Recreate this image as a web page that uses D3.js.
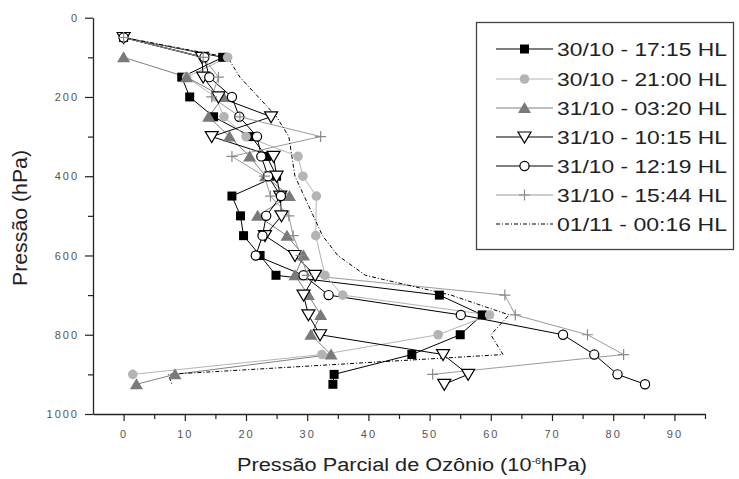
<!DOCTYPE html>
<html><head><meta charset="utf-8">
<script src="https://cdn.jsdelivr.net/npm/d3@7"></script>
<style>body{margin:0;background:#fff}svg{display:block}</style></head>
<body><svg id="c" width="739" height="479"></svg>
<script>
// Pressure levels (hPa)
const levels=[50,100,150,200,250,300,350,400,450,500,550,600,650,700,750,800,850,900,925];
// Ozone partial pressure (10^-6 hPa) per sounding, null = no point
const s1715=[0,16.2,9.5,10.8,14.7,20.8,23.4,25,17.7,19.1,19.6,22.3,24.9,51.6,58.6,55,47.1,34.4,34.2];
const s2100=[0,17,10.3,15,16.4,20,28.5,29.3,31.5,null,31.4,null,32.9,35.8,59.8,51.4,32.4,1.5,null];
const s0320=[null,0,10.3,16.3,13.9,17.3,20.6,23.2,27.1,21.9,26.7,29.4,28,30.2,32.2,30.6,33.9,8.4,2.1];
const s1015=[0,12.8,13,15.5,24.1,14.4,24.5,25,25.6,25.8,23.1,28,31.3,29.4,30.2,32.1,52.2,56.3,52.4];
const s1219=[0,13.2,14,17.7,18.9,21.8,22.5,23.6,25.7,23.3,22.7,21.6,29.4,33.5,55.1,71.8,76.9,80.7,85.2];
const s1544=[0,13,15.5,14.4,19,32.2,17.7,23,24,27,27.7,29,30,62.3,64,75.8,81.7,50.5,null];
const s0016=[0,17,19,22,25,27,27.5,28,29.5,31,32.5,35,39.5,53.5,63,60,62,7.3,7.9];
const seriesNames=["30/10 - 17:15 HL","30/10 - 21:00 HL","31/10 - 03:20 HL","31/10 - 10:15 HL","31/10 - 12:19 HL","31/10 - 15:44 HL","01/11 - 00:16 HL"];
const seriesValues=[s1715,s2100,s0320,s1015,s1219,s1544,s0016];
const xTicks=[0,10,20,30,40,50,60,70,80,90];
const yTicks=[0,200,400,600,800,1000];

const styles=[
  {line:"#000",marker:"square",fill:"#000",stroke:"#000"},
  {line:"#b4b4b4",marker:"circle",fill:"#b4b4b4",stroke:"#b4b4b4"},
  {line:"#808080",marker:"triUp",fill:"#7a7a7a",stroke:"#7a7a7a"},
  {line:"#000",marker:"triDown",fill:"#fff",stroke:"#000"},
  {line:"#000",marker:"circleOpen",fill:"#fff",stroke:"#000"},
  {line:"#9a9a9a",marker:"plus",fill:"none",stroke:"#8a8a8a"},
  {line:"#000",marker:"none",dash:"4,2,1,2"}
];

const svg=d3.select("#c");
const x=d3.scaleLinear().domain([-5,95]).range([93,705]);
const y=d3.scaleLinear().domain([0,1000]).range([17.7,414]);
const FONT="'Liberation Sans', Arial, sans-serif";

// axes
const xAxis=svg.append("g").attr("transform",`translate(0,${y(1000)})`)
  .call(d3.axisBottom(x).tickValues(xTicks).tickSize(7).tickSizeOuter(0).tickPadding(9).tickFormat(d3.format("d")));
const xMinor=svg.append("g").attr("transform",`translate(0,${y(1000)})`)
  .call(d3.axisBottom(x).tickValues(d3.range(5,96,10)).tickSize(5).tickFormat(""));
xMinor.select(".domain").remove();
const yAxis=svg.append("g").attr("transform",`translate(${x(-5)},0)`)
  .call(d3.axisLeft(y).tickValues(yTicks).tickSize(8).tickSizeOuter(0).tickPadding(6).tickFormat(d3.format("d")));
const yMinor=svg.append("g").attr("transform",`translate(${x(-5)},0)`)
  .call(d3.axisLeft(y).tickValues(d3.range(100,1000,200)).tickSize(5).tickFormat(""));
yMinor.select(".domain").remove();
svg.selectAll(".domain").attr("stroke","#222").attr("stroke-width",1.3);
svg.selectAll(".tick line").attr("stroke","#222").attr("stroke-width",1.2);
svg.selectAll(".tick text").attr("font-family",FONT).attr("font-size",11).attr("fill","#555").attr("letter-spacing","2px");

// axis titles
svg.append("text").attr("x",412).attr("y",471).attr("text-anchor","middle")
  .attr("font-family",FONT).attr("font-size",18).attr("fill","#222")
  .attr("textLength",350).attr("lengthAdjust","spacingAndGlyphs")
  .html('Pressão Parcial de Ozônio (10<tspan dy="-7" font-size="9">-6</tspan><tspan dy="7">hPa)</tspan>');
svg.append("text").attr("transform","translate(27,218) rotate(-90)").attr("text-anchor","middle")
  .attr("font-family",FONT).attr("font-size",20).attr("fill","#222")
  .attr("textLength",136).attr("lengthAdjust","spacingAndGlyphs")
  .text("Pressão (hPa)");

function drawMarker(g,type,st,cx,cy){
  if(type==="square") g.append("rect").attr("x",cx-4.5).attr("y",cy-4.5).attr("width",9).attr("height",9).attr("fill",st.fill);
  else if(type==="circle") g.append("circle").attr("cx",cx).attr("cy",cy).attr("r",4.8).attr("fill",st.fill);
  else if(type==="circleOpen") g.append("circle").attr("cx",cx).attr("cy",cy).attr("r",4.6).attr("fill","#fff").attr("stroke",st.stroke).attr("stroke-width",1.2);
  else if(type==="triUp") g.append("path").attr("d",`M${cx},${cy-6}L${cx+6.5},${cy+5}L${cx-6.5},${cy+5}Z`).attr("fill",st.fill);
  else if(type==="triDown") g.append("path").attr("d",`M${cx-6.5},${cy-5}L${cx+6.5},${cy-5}L${cx},${cy+6}Z`).attr("fill","#fff").attr("stroke",st.stroke).attr("stroke-width",1.2);
  else if(type==="plus") g.append("path").attr("d",`M${cx-5.5},${cy}H${cx+5.5}M${cx},${cy-5.5}V${cy+5.5}`).attr("stroke",st.stroke).attr("stroke-width",1.2);
}

const line=d3.line().defined(d=>d[0]!=null).x(d=>x(d[0])).y(d=>y(d[1]));
const plot=svg.append("g");
seriesValues.forEach((vals,i)=>{
  const st=styles[i];
  const pts=levels.map((p,j)=>[vals[j],p]).filter(d=>d[0]!=null);
  plot.append("path").datum(pts).attr("d",line).attr("fill","none").attr("stroke",st.line)
    .attr("stroke-width",1).attr("stroke-dasharray",st.dash||null);
});
seriesValues.forEach((vals,i)=>{
  const st=styles[i];
  if(st.marker==="none") return;
  const g=plot.append("g");
  levels.forEach((p,j)=>{ if(vals[j]!=null) drawMarker(g,st.marker,st,x(vals[j]),y(p)); });
});

// legend
const lg=svg.append("g");
lg.append("rect").attr("x",476.5).attr("y",22.5).attr("width",257).attr("height",227).attr("fill","#fff").attr("stroke","#444").attr("stroke-width",1.3);
const rowY=[49,79,108,137,166,195,224];
seriesNames.forEach((nm,i)=>{
  const st=styles[i], cy=rowY[i];
  lg.append("line").attr("x1",496).attr("x2",553).attr("y1",cy).attr("y2",cy).attr("stroke",st.line).attr("stroke-width",1.2).attr("stroke-dasharray",st.dash||null);
  drawMarker(lg,st.marker,st,524.5,cy);
  lg.append("text").attr("x",557).attr("y",cy+6.5).attr("font-family",FONT).attr("font-size",18).attr("fill","#222")
    .attr("textLength",170).attr("lengthAdjust","spacingAndGlyphs").text(nm);
});
</script></body></html>
